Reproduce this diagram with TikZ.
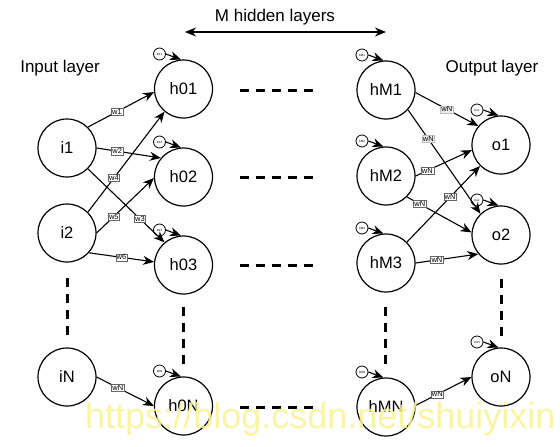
\documentclass[tikz,border=0pt]{standalone}
\usepackage{fontspec}
\setmainfont{Liberation Sans}
\usetikzlibrary{arrows.meta,calc}
\definecolor{wm}{RGB}{250,243,150}
\begin{document}
\begin{tikzpicture}[x=1pt,y=-1pt,
  neuron/.style={circle,draw,line width=1.2pt,minimum size=58pt,inner sep=0pt,font=\fontsize{16.5}{18}\selectfont},
  bias/.style={circle,draw,line width=0.8pt,minimum size=12pt,inner sep=0pt,font=\fontsize{3}{3}\selectfont},
  conn/.style={line width=1.1pt,-{Stealth[length=11pt,width=9pt,inset=3.5pt]}},
  wl/.style={fill=white,draw=black!60,line width=0.4pt,inner sep=0.9pt,font=\fontsize{7.5}{7.5}\selectfont},
  wr/.style={fill=black!8,draw=black!25,line width=0.4pt,inner sep=0.9pt,font=\fontsize{7.5}{7.5}\selectfont},
  gap/.style={line width=3pt,dash pattern=on 9pt off 7pt},
  lbl/.style={font=\fontsize{17}{19}\selectfont}]
\useasboundingbox[fill=white] (0,0) rectangle (560,447);

% titles
\node[lbl] (tin) at (60,68) {Input layer};
\node[lbl] (tout) at (492,68) {Output layer};
\node[lbl] (thid) at (275,17) {M hidden layers};
\coordinate (ha) at (185,32);
\coordinate (hb) at (386,32);
\draw[line width=1.1pt,{Stealth[length=11pt,width=9pt,inset=3.5pt]}-{Stealth[length=11pt,width=9pt,inset=3.5pt]}] (ha) -- (hb);

% neurons
\node[neuron] (i1) at (67,148) {i1};
\node[neuron] (i2) at (67,233) {i2};
\node[neuron] (iN) at (67,377) {iN};
\node[neuron] (h01) at (183.5,89) {h01};
\node[neuron] (h02) at (183.5,177) {h02};
\node[neuron] (h03) at (183.5,265) {h03};
\node[neuron] (h0N) at (183.5,406) {h0N};
\node[neuron] (hM1) at (386,90) {hM1};
\node[neuron] (hM2) at (386,176) {hM2};
\node[neuron] (hM3) at (386,263) {hM3};
\node[neuron] (hMN) at (386,407) {hMN};
\node[neuron] (o1) at (501,145) {o1};
\node[neuron] (o2) at (501,235) {o2};
\node[neuron] (oN) at (501,377) {oN};

% biases
\foreach \n/\t in {h01/b01,h02/b02,h03/b03,h0N/b0N,hM1/bM1,hM2/bM2,hM3/bM3,hMN/bMN,o1/bo1,o2/bo2,oN/boN}{
  \node[bias] (b\n) at ($(\n)+(-24,-35)$) {\t};
  \draw[conn] (b\n.east) -- (\n.95);
}

% dashed gaps
\coordinate (d1a) at (240,90);  \coordinate (d1b) at (320,90);
\coordinate (d2a) at (240,177); \coordinate (d2b) at (320,177);
\coordinate (d3a) at (240,265); \coordinate (d3b) at (320,265);
\coordinate (d4a) at (240,407); \coordinate (d4b) at (320,407);
\draw[gap] (d1a) -- (d1b);
\draw[gap] (d2a) -- (d2b);
\draw[gap] (d3a) -- (d3b);
\draw[gap] (d4a) -- (d4b);
\coordinate (v1a) at (67,278);    \coordinate (v1b) at (67,336);
\coordinate (v2a) at (183.5,307); \coordinate (v2b) at (183.5,365);
\coordinate (v3a) at (385,307);   \coordinate (v3b) at (385,365);
\coordinate (v4a) at (501,279);   \coordinate (v4b) at (501,337);
\draw[gap] (v1a) -- (v1b);
\draw[gap] (v2a) -- (v2b);
\draw[gap] (v3a) -- (v3b);
\draw[gap] (v4a) -- (v4b);

% input -> first hidden
\draw[conn] (i1.45) -- node[wl,pos=0.44] {w1} (h01.186);
\draw[conn] (i1.0) -- node[wl,pos=0.32] {w2} (h02.140);
\draw[conn] (i1.-45) -- node[wl,pos=0.68] {w3} (h03.130);
\draw[conn] (i2.45) -- node[wl,pos=0.34] {w4} (h01.230);
\draw[conn] (i2.0) -- node[wl,pos=0.3] {w5} (h02.182);
\draw[conn] (i2.-42) -- node[wl,pos=0.5] {w6} (h03.174);
\draw[conn] (iN.0) -- node[wl,pos=0.37] {wN} (h0N.180);

% last hidden -> output
\draw[conn] (hM1.-5) -- node[wr,pos=0.5] {wN} (o1.140);
\draw[conn] (hM1.-42) -- node[wr,pos=0.28] {wN} (o2.134);
\draw[conn] (hM2.0) -- node[wl,pos=0.21] {wN} (o1.190);
\draw[conn] (hM2.-45) -- node[wl,pos=0.2] {wN} (o2.175);
\draw[conn] (hM3.45) -- node[wl,pos=0.59] {wN} (o1.225);
\draw[conn] (hM3.0) -- node[wl,pos=0.34] {wN} (o2.220);
\draw[conn] (hMN.3) -- node[wl,pos=0.39] {wN} (oN.180);

% watermark
\node[anchor=base west,inner sep=0pt,text=wm,fill opacity=0,text opacity=0.85,font=\fontsize{36}{36}\selectfont] (wmk) at (85,428) {https://blog.csdn.net/shuiyixin};
\end{tikzpicture}
\end{document}
